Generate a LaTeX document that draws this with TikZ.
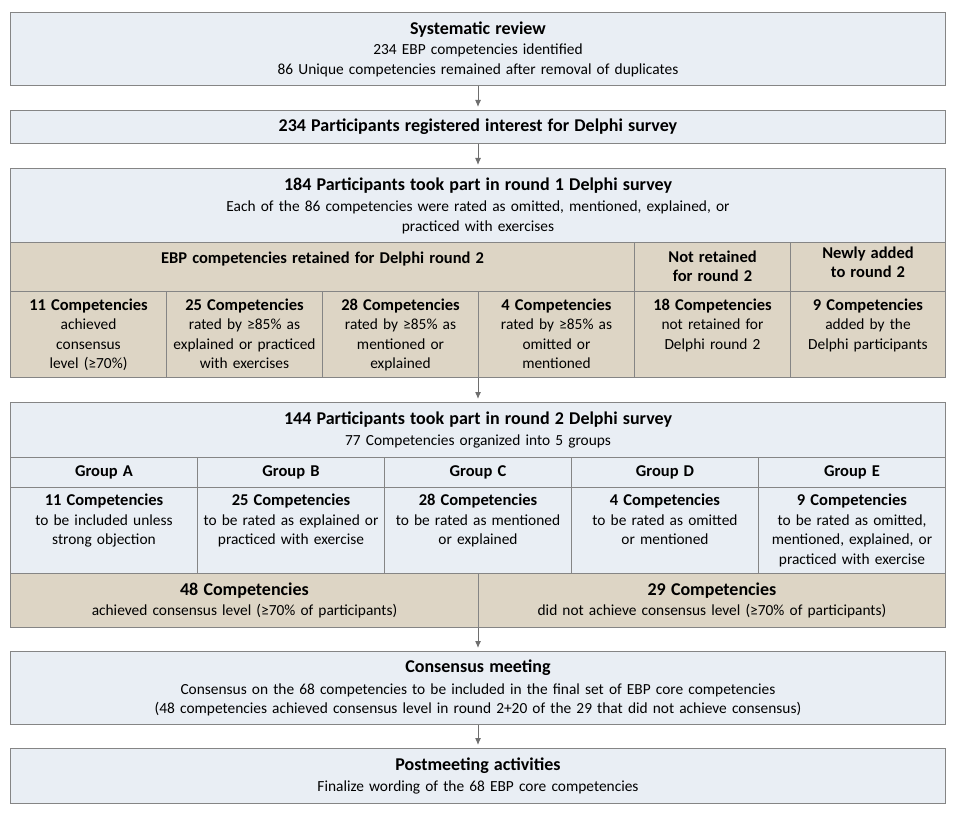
\documentclass[tikz,border=0pt]{standalone}
\usepackage{fontspec}
\setmainfont{Carlito}
\usetikzlibrary{arrows.meta}

\definecolor{paleblue}{HTML}{E9EEF4}
\definecolor{boxtan}{HTML}{DDD5C5}
\definecolor{rulegray}{HTML}{858585}
\definecolor{arrowgray}{HTML}{6E6E6E}

% heading fonts
\newcommand{\hd}{\fontsize{18}{19.5}\selectfont\bfseries}
\newcommand{\ch}{\fontsize{16.5}{19.5}\selectfont\bfseries}

\tikzset{
	panel/.style={draw=rulegray, line width=1pt, fill=paleblue, anchor=north west,
		inner xsep=4pt, inner ysep=0pt, align=center, font=\fontsize{15.4}{19.5}\selectfont},
	sized/.style 2 args={minimum width=#1pt, minimum height=#2pt, text width=#1pt-8pt},
	topcell/.style n args={3}{text width=#1pt-8pt, text height=#3pt, text depth=#2pt-#3pt},
	tanfill/.style={fill=boxtan},
	flow/.style={draw=arrowgray, line width=1pt, -{Latex[length=7pt,width=6pt]}, shorten >=3pt}
}

\begin{document}
\begin{tikzpicture}[x=1pt,y=-1pt]
	\useasboundingbox (0,0) rectangle (954,813);

	\node[panel, sized={935}{73}] (sysrev) at (10,12) {{\hd Systematic review}\\[1pt]
		234 EBP competencies identified\\ 86 Unique competencies remained after removal of duplicates};
	\node[panel, sized={935}{33}] (regint) at (10,110) {\hd 234 Participants registered interest for Delphi survey};

	% round 1
	\node[panel, sized={935}{74}] (r1top) at (10,168) {{\hd 184 Participants took part in round 1 Delphi survey}\\[2pt]
		Each of the 86 competencies were rated as omitted, mentioned, explained, or\\ practiced with exercises};
	\node[panel, tanfill, topcell={624}{49}{21}] (r1kept) at (10,242) {\ch EBP competencies retained for Delphi round 2};
	\node[panel, tanfill, topcell={156}{49}{20}] (r1drop) at (634,242) {\ch Not retained\\ for round 2};
	\node[panel, tanfill, topcell={155}{49}{16}] (r1new) at (790,242) {\ch Newly added\\ to round 2};
	\node[panel, tanfill, topcell={156}{86}{19}] (r1c1) at (10,291) {{\ch 11 Competencies}\\ achieved\\ consensus\\ level (≥70\%)};
	\node[panel, tanfill, topcell={156}{86}{19}] (r1c2) at (166,291) {{\ch 25 Competencies}\\ rated by ≥85\% as\\ explained or practiced\\ with exercises};
	\node[panel, tanfill, topcell={156}{86}{19}] (r1c3) at (322,291) {{\ch 28 Competencies}\\ rated by ≥85\% as\\ mentioned or\\ explained};
	\node[panel, tanfill, topcell={156}{86}{19}] (r1c4) at (478,291) {{\ch 4 Competencies}\\ rated by ≥85\% as\\ omitted or\\ mentioned};
	\node[panel, tanfill, topcell={156}{86}{19}] (r1c5) at (634,291) {{\ch 18 Competencies}\\ not retained for\\ Delphi round 2};
	\node[panel, tanfill, topcell={155}{86}{19}] (r1c6) at (790,291) {{\ch 9 Competencies}\\ added by the\\ Delphi participants};

	% round 2
	\node[panel, sized={935}{55}] (r2top) at (10,402) {{\hd 144 Participants took part in round 2 Delphi survey}\\[2pt]
		77 Competencies organized into 5 groups};
	\foreach \g [count=\i from 0] in {A,B,C,D,E}
		\node[panel, sized={187}{30}] (grp\g) at ({10+187*\i},457) {\ch Group \g};
	\node[panel, topcell={187}{86}{18}] (r2a) at (10,487) {{\ch 11 Competencies}\\ to be included unless\\ strong objection};
	\node[panel, topcell={187}{86}{18}] (r2b) at (197,487) {{\ch 25 Competencies}\\ to be rated as explained or\\ practiced with exercise};
	\node[panel, topcell={187}{86}{18}] (r2c) at (384,487) {{\ch 28 Competencies}\\ to be rated as mentioned\\ or explained};
	\node[panel, topcell={187}{86}{18}] (r2d) at (571,487) {{\ch 4 Competencies}\\ to be rated as omitted\\ or mentioned};
	\node[panel, topcell={187}{86}{18}] (r2e) at (758,487) {{\ch 9 Competencies}\\ to be rated as omitted,\\ mentioned, explained, or\\ practiced with exercise};
	\node[panel, tanfill, sized={468}{54}] (r2yes) at (10,573) {{\hd 48 Competencies}\\ achieved consensus level (≥70\% of participants)};
	\node[panel, tanfill, sized={467}{54}] (r2no) at (478,573) {{\hd 29 Competencies}\\ did not achieve consensus level (≥70\% of participants)};

	\node[panel, sized={935}{73}] (cons) at (10,651) {{\hd Consensus meeting}\\[2pt]
		Consensus on the 68 competencies to be included in the final set of EBP core competencies\\
		(48 competencies achieved consensus level in round 2+20 of the 29 that did not achieve consensus)};
	\node[panel, sized={935}{55}] (post) at (10,748) {{\hd Postmeeting activities}\\[2pt]
		Finalize wording of the 68 EBP core competencies};

	% arrows
	\draw[flow] (sysrev.south) -- (regint.north);
	\draw[flow] (regint.south) -- (r1top.north);
	\draw[flow] (r1c4.south west) -- (r1c4.south west |- r2top.north);
	\draw[flow] (r2no.south west) -- (r2no.south west |- cons.north);
	\draw[flow] (cons.south) -- (post.north);
\end{tikzpicture}
\end{document}
